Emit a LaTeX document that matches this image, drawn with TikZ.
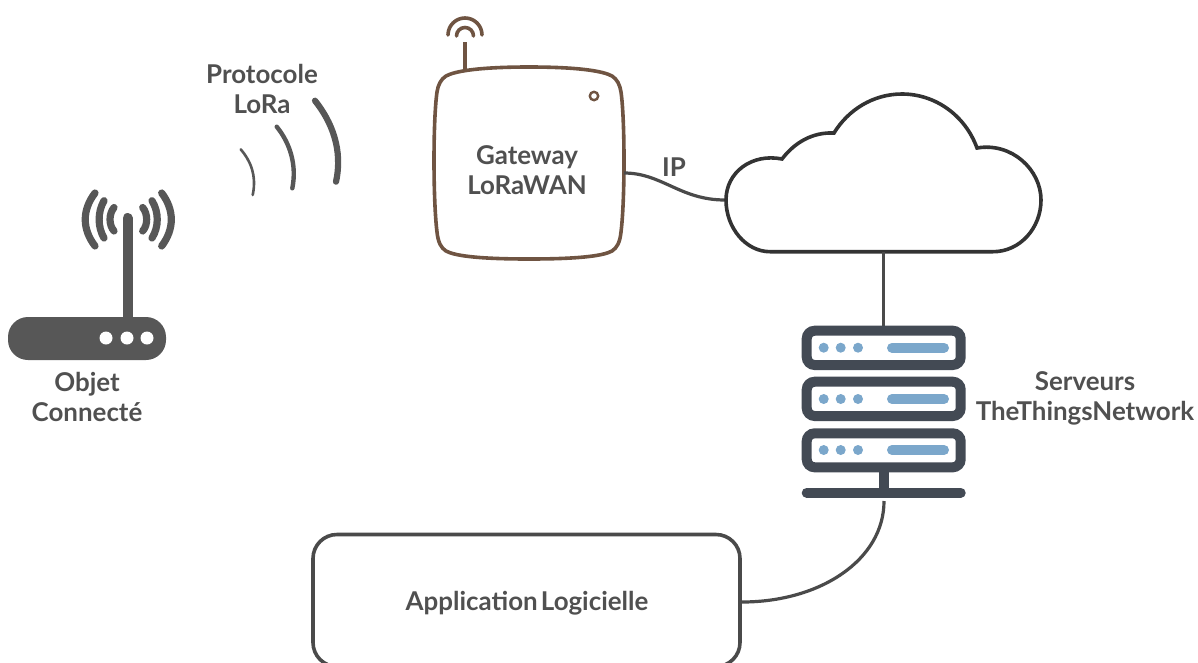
\documentclass[tikz,border=0pt]{standalone}
\usepackage{fontspec}
\setmainfont{Lato}
\definecolor{txt}{HTML}{505050}
\definecolor{iconc}{HTML}{575757}
\definecolor{brownc}{HTML}{6F5442}
\definecolor{linec}{HTML}{4A4A4A}
\definecolor{cloudc}{HTML}{333333}
\definecolor{srv}{HTML}{434A54}
\definecolor{blu}{HTML}{7BA7CB}
\tikzset{
  lab/.style={text=txt,font=\fontsize{25.9}{30}\selectfont\bfseries,align=center,inner sep=0pt},
  link/.style={draw=linec,line width=3.2pt},
  rack/.style={draw=srv,line width=10pt,rounded corners=8pt},
  srvbar/.style={line width=10pt,line cap=round,draw=blu},
  srvline/.style={line width=10pt,line cap=round,draw=srv},
  wave/.style={draw=iconc,line cap=round},
  rwave/.style={draw=iconc,line cap=round,line width=7.2pt},
  gw/.style={draw=brownc,line width=3.6pt}
}
\begin{document}
\begin{tikzpicture}[x=1pt,y=-1pt]
\useasboundingbox (0,0) rectangle (1198,662);
% named connection points
\coordinate (gwE) at (624,173);
\coordinate (cloudW) at (725,200);
\coordinate (cloudS) at (883.5,252);
\coordinate (srvT) at (883.5,326);
\coordinate (srvB) at (884,501);
% router
\fill[iconc,rounded corners=20pt] (8,317) rectangle (166,360);
\draw[iconc,line width=10pt,line cap=round] (127.5,218) -- (127.5,320);
\foreach \cx in {106,127,147}{\fill[white] (\cx,338) circle (6.5);}
\draw[rwave] (114,207.5) .. controls (108.7,214) and (108.7,225) .. (114,231);
\draw[rwave] (104,200.7) .. controls (97.5,212) and (97.5,227) .. (104,238);
\draw[rwave] (95,193) .. controls (82,210) and (82,229) .. (95,246);
\draw[rwave] (142.7,207.5) .. controls (148,214) and (148,225) .. (142.7,231);
\draw[rwave] (152,200.7) .. controls (159,212) and (159,227) .. (152,238);
\draw[rwave] (161.7,193) .. controls (174.5,210) and (174.5,229) .. (161.7,246);
\node[lab] (objet) at (87,396.5) {Objet\\Connecté};
% waves
\draw[wave,line width=2.6pt] (240.7,149.3) .. controls (250,160) and (257,175) .. (252.7,195);
\draw[wave,line width=4.4pt] (276.7,126.7) .. controls (290,143) and (297,165) .. (292.3,188.3);
\draw[wave,line width=6.2pt] (315,100.7) .. controls (332,122) and (343,150) .. (336,181.7);
\node[lab] (proto) at (262,89) {Protocole\\LoRa};
% gateway
\draw[gw] (529,67) .. controls (480,67) and (455,71) .. (446,76)
  .. controls (441,79) and (438,85) .. (437,92)
  .. controls (433,120) and (433,200) .. (437,232)
  .. controls (438,242) and (441,248) .. (446,251)
  .. controls (455,256) and (480,259) .. (529,259)
  .. controls (578,259) and (603,256) .. (612,251)
  .. controls (617,248) and (620,242) .. (621,232)
  .. controls (625,200) and (625,120) .. (621,92)
  .. controls (620,85) and (617,79) .. (612,76)
  .. controls (603,71) and (578,67) .. cycle;
\draw[gw] (465,69) -- (465,42);
\draw[gw,line cap=round] (448,35) arc[start angle=180,end angle=360,radius=17];
\draw[gw,line cap=round] (456.5,36) arc[start angle=180,end angle=360,radius=8.5];
\draw[gw,line width=2.4pt] (594,96) circle (4.2);
\node[lab] (gateway) at (527,170) {Gateway\\LoRaWAN};
% IP link
\draw[link] (gwE) .. controls (662,173) and (680,200) .. (cloudW);
\node[lab] (ip) at (674,167) {IP};
% cloud
\draw[cloudc,line width=3.6pt,line join=miter] (770,251.7) -- (993,251.7)
  .. controls (1020,251.7) and (1041,228) .. (1041,200)
  .. controls (1041,170) and (1012,142) .. (977,148)
  .. controls (965,115) and (935,94) .. (902,94)
  .. controls (873,94) and (848,110) .. (834,133)
  .. controls (813,132) and (795,142) .. (782,159)
  .. controls (752,153) and (726,172) .. (726,200)
  .. controls (726,228) and (746,251.7) .. (770,251.7) -- cycle;
\draw[link] (cloudS) -- (srvT);
% servers
\foreach \ya/\yb/\ym in {330.7/365/347.7,381.7/416/399,433.3/467.3/450}{
  \draw[rack] (806.7,\ya) rectangle (960.7,\yb);
  \foreach \dx in {823.7,840.7,858}{\fill[blu] (\dx,\ym) circle (5);}
  \draw[srvbar] (892,\ym) -- (944,\ym);
}
\draw[srvline,line cap=butt] (883.7,472) -- (883.7,490);
\draw[srvline] (806.7,492.7) -- (960.7,492.7);
\node[lab] (serveurs) at (1085,398) {Serveurs\\TheThingsNetwork};
% application
\node[draw=linec,line width=3.6pt,rounded corners=24pt,minimum width=427pt,minimum height=132pt,anchor=center] (app) at (526.5,600.5) {};
\node[lab] (applab) at (527,603) {Application\hspace{-0.12em} Logicielle};
\draw[link] (srvB) .. controls (884,560) and (820,602) .. (742,602);
\end{tikzpicture}
\end{document}
